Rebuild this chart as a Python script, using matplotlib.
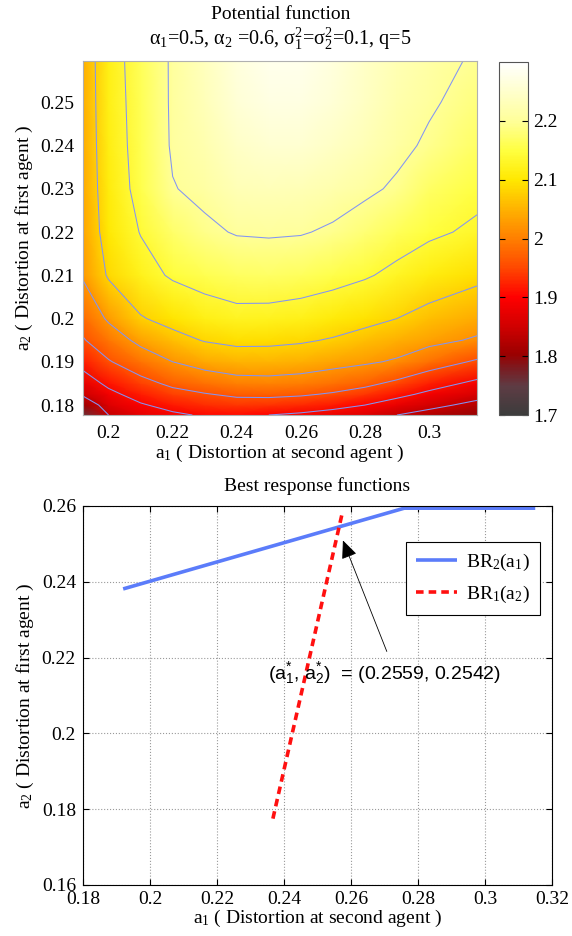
import numpy as np
import matplotlib
matplotlib.use('Agg')
import matplotlib.pyplot as plt
from matplotlib.colors import LinearSegmentedColormap
from matplotlib.ticker import FuncFormatter

plt.rcParams['font.family'] = 'Liberation Serif'
plt.rcParams['font.size'] = 14
plt.rcParams['mathtext.fontset'] = 'custom'
plt.rcParams['mathtext.rm'] = 'Liberation Serif'
plt.rcParams['mathtext.it'] = 'Liberation Serif:italic'
plt.rcParams['mathtext.sf'] = 'Liberation Sans'

# ---------------- data ----------------
# potential function grid (rows = a2, columns = a1)
a1_grid = [0.192, 0.2, 0.21, 0.22, 0.23, 0.24, 0.25, 0.26, 0.27, 0.28, 0.29, 0.30, 0.315]
a2_grid = [0.1777, 0.18, 0.1825, 0.185, 0.19, 0.195, 0.2, 0.21, 0.22, 0.23, 0.24, 0.25, 0.2595]
potential = [
    [1.760, 1.840, 1.872, 1.892, 1.905, 1.908, 1.900, 1.892, 1.880, 1.866, 1.840, 1.822, 1.800],
    [1.805, 1.862, 1.895, 1.916, 1.930, 1.937, 1.935, 1.928, 1.916, 1.900, 1.876, 1.854, 1.826],
    [1.847, 1.887, 1.920, 1.944, 1.957, 1.969, 1.971, 1.966, 1.955, 1.938, 1.914, 1.889, 1.858],
    [1.873, 1.911, 1.944, 1.970, 1.988, 2.001, 2.003, 1.998, 1.986, 1.972, 1.949, 1.922, 1.888],
    [1.918, 1.956, 1.990, 2.020, 2.040, 2.051, 2.052, 2.047, 2.037, 2.027, 2.014, 1.987, 1.953],
    [1.956, 1.992, 2.033, 2.063, 2.083, 2.092, 2.091, 2.086, 2.076, 2.062, 2.048, 2.034, 2.014],
    [1.981, 2.027, 2.076, 2.097, 2.115, 2.125, 2.124, 2.118, 2.107, 2.094, 2.080, 2.063, 2.043],
    [2.025, 2.086, 2.121, 2.146, 2.159, 2.168, 2.169, 2.165, 2.157, 2.145, 2.128, 2.111, 2.092],
    [2.037, 2.103, 2.142, 2.172, 2.192, 2.203, 2.205, 2.203, 2.194, 2.179, 2.163, 2.148, 2.132],
    [2.040, 2.110, 2.155, 2.198, 2.210, 2.228, 2.230, 2.228, 2.220, 2.208, 2.194, 2.171, 2.152],
    [2.043, 2.113, 2.159, 2.205, 2.222, 2.245, 2.255, 2.255, 2.243, 2.228, 2.210, 2.194, 2.170],
    [2.045, 2.115, 2.161, 2.206, 2.232, 2.258, 2.270, 2.270, 2.258, 2.240, 2.220, 2.205, 2.185],
    [2.046, 2.117, 2.163, 2.206, 2.236, 2.265, 2.280, 2.280, 2.265, 2.245, 2.225, 2.212, 2.195],
]
contour_levels = [1.84, 1.90, 1.96, 2.02, 2.08, 2.14, 2.20]
cbar_ticks = [1.7, 1.8, 1.9, 2.0, 2.1, 2.2]

# best response curves
br2_a1 = [0.192, 0.2759, 0.315]
br2_a2 = [0.2381, 0.2594, 0.2594]
br1_a1 = [0.2367, 0.2575]
br1_a2 = [0.1775, 0.2585]
nash_a1, nash_a2 = 0.2559, 0.2542

# ---------------- style ----------------
cmap = LinearSegmentedColormap.from_list('pot', [
    (0.00, '#3c3c3c'), (0.08, '#5e3c44'), (0.13, '#7a1c22'), (0.17, '#9a0000'),
    (0.25, '#d00000'), (0.333, '#ff0000'), (0.42, '#ff4a00'), (0.50, '#ff7f00'),
    (0.58, '#ffb000'), (0.667, '#ffe800'), (0.75, '#ffff40'), (0.833, '#ffff98'),
    (1.00, '#ffffff')])
fmt = FuncFormatter(lambda v, p: f'{v:g}')

fig = plt.figure(figsize=(5.72, 9.36), dpi=100)

# ---------------- potential function ----------------
ax1 = fig.add_axes([0.145, 0.5566, 0.689, 0.378])
cax = fig.add_axes([0.8724, 0.5566, 0.0507, 0.377])
mesh = ax1.pcolormesh(a1_grid, a2_grid, potential, shading='gouraud',
                      cmap=cmap, vmin=1.7, vmax=2.3)
ax1.contour(a1_grid, a2_grid, potential, levels=contour_levels,
            colors='#8294f5', linewidths=0.75)
ax1.set_xlim(0.192, 0.315)
ax1.set_ylim(0.1777, 0.2595)
ax1.set_xticks([0.2, 0.22, 0.24, 0.26, 0.28, 0.3])
ax1.set_yticks([0.18, 0.19, 0.2, 0.21, 0.22, 0.23, 0.24, 0.25])
ax1.xaxis.set_major_formatter(fmt)
ax1.yaxis.set_major_formatter(fmt)
ax1.tick_params(length=0, pad=7)
ax1.tick_params(axis='y', pad=6)
for s in ax1.spines.values():
    s.set_color('#b0b0b0')
    s.set_linewidth(0.8)
ax1.set_xlabel(r'a$_1$ ( Distortion at second agent )', labelpad=1)
ax1.set_ylabel(r'a$_2$ ( Distortion at first agent )', labelpad=4)
fig.text(0.49, 0.985, 'Potential function', ha='center', va='center', fontsize=14)
fig.text(0.49, 0.959, r'α$_1$=0.5, α$_2$ =0.6, σ$_1^2$=σ$_2^2$=0.1, q=5',
         ha='center', va='center', fontsize=14.5)

cb = fig.colorbar(mesh, cax=cax, ticks=cbar_ticks)
cb.ax.yaxis.set_major_formatter(fmt)
cb.ax.tick_params(direction='in', length=4, left=True, right=True, pad=4)
cb.outline.set_edgecolor('#555555')
cb.outline.set_linewidth(0.8)

# ---------------- best response functions ----------------
ax2 = fig.add_axes([0.145, 0.0545, 0.82, 0.405])
ax2.plot(br2_a1, br2_a2, color='#5b7cfa', lw=2.6, label=r'BR$_2$(a$_1$)',
         solid_capstyle='butt')
ax2.plot(br1_a1, br1_a2, color='#ff1010', lw=2.6, ls=(0, (2.1, 1.4)),
         label=r'BR$_1$(a$_2$)')
ax2.set_xlim(0.18, 0.32)
ax2.set_ylim(0.16, 0.26)
ax2.set_xticks([0.18, 0.2, 0.22, 0.24, 0.26, 0.28, 0.3, 0.32])
ax2.set_yticks([0.16, 0.18, 0.2, 0.22, 0.24, 0.26])
ax2.xaxis.set_major_formatter(fmt)
ax2.yaxis.set_major_formatter(fmt)
ax2.grid(True, color='#9a9a9a', ls=':', lw=0.8)
ax2.tick_params(direction='in', length=4, top=True, right=True, width=0.8)
ax2.tick_params(axis='x', pad=4)
ax2.tick_params(axis='y', pad=5)
for s in ax2.spines.values():
    s.set_linewidth(0.8)
ax2.set_xlabel(r'a$_1$ ( Distortion at second agent )', labelpad=0)
ax2.set_ylabel(r'a$_2$ ( Distortion at first agent )', labelpad=4)
ax2.set_title('Best response functions', fontsize=14, pad=11)

leg = ax2.legend(loc='upper right', bbox_to_anchor=(0.974, 0.904),
                 fancybox=False, edgecolor='black', framealpha=1,
                 fontsize=14, handlelength=2.1, borderaxespad=0,
                 labelspacing=0.55, borderpad=0.5, handletextpad=0.5)
leg.get_frame().set_linewidth(0.8)

ax2.annotate('', xy=(0.2576, 0.2509), xytext=(0.2707, 0.2216),
             arrowprops=dict(arrowstyle='-|>,head_length=0.8,head_width=0.35',
                             color='black', lw=0.6, shrinkA=0, shrinkB=0))
ax2.text(0.2352, 0.2157,
         r'(a$_\mathsf{1}^\mathsf{*}$, a$_\mathsf{2}^\mathsf{*}$)  = (%.4f, %.4f)' % (nash_a1, nash_a2),
         family='Liberation Sans', fontsize=14, ha='left', va='center')

fig.savefig('out.png', dpi=100)
